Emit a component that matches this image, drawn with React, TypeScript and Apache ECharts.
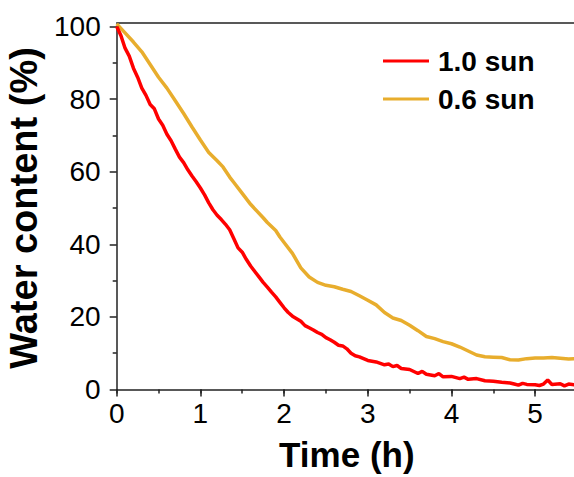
import React, { useEffect, useRef } from "react";
import * as echarts from "echarts";

const seriesNames = ["1.0 sun", "0.6 sun"];
const xTicks = [0, 1, 2, 3, 4, 5];
const yTicks = [0, 20, 40, 60, 80, 100];

const sun10Time = [0, 0.05, 0.1, 0.15, 0.2, 0.25, 0.3, 0.35, 0.4, 0.45, 0.5, 0.55, 0.6, 0.65, 0.7, 0.75, 0.8, 0.85, 0.9, 0.95, 1.0, 1.05, 1.1, 1.15, 1.2, 1.25, 1.3, 1.35, 1.4, 1.45, 1.5, 1.55, 1.6, 1.65, 1.7, 1.75, 1.8, 1.85, 1.9, 1.95, 2.0, 2.05, 2.1, 2.15, 2.2, 2.25, 2.3, 2.35, 2.4, 2.45, 2.5, 2.55, 2.6, 2.65, 2.7, 2.75, 2.8, 2.85, 2.9, 2.95, 3.0, 3.1, 3.2, 3.25, 3.3, 3.35, 3.4, 3.5, 3.6, 3.65, 3.7, 3.8, 3.85, 3.9, 4.0, 4.1, 4.15, 4.2, 4.3, 4.4, 4.5, 4.6, 4.7, 4.75, 4.8, 4.85, 4.9, 5.0, 5.05, 5.1, 5.15, 5.2, 5.3, 5.35, 5.4, 5.5];
const sun10Water = [100, 97.5, 94, 91.8, 88.5, 86, 83, 81, 78.5, 77.3, 74.5, 72.8, 70.3, 68.5, 66.2, 64, 62.5, 60.5, 58.8, 57.2, 55.5, 53.6, 51.4, 49.5, 48, 46.8, 45.5, 44, 41.5, 39, 37.8, 35.8, 34, 32.5, 31, 29.5, 28.2, 26.8, 25.5, 24, 22.5, 21.2, 20.2, 19.5, 18.8, 17.6, 17.0, 16.4, 15.7, 15.2, 14.3, 13.7, 13.0, 12.2, 12.0, 11.2, 10.0, 9.3, 9.0, 8.5, 8.0, 7.6, 6.8, 7.0, 6.3, 6.6, 5.8, 5.5, 4.4, 5.0, 4.2, 3.8, 4.4, 3.5, 3.6, 3.0, 3.4, 2.8, 3.0, 2.4, 2.3, 2.0, 1.8, 1.5, 1.2, 1.7, 1.4, 1.3, 1.1, 1.5, 2.6, 1.4, 1.6, 1.0, 1.5, 1.2];

const sun06Time = [0, 0.1, 0.2, 0.3, 0.4, 0.5, 0.6, 0.7, 0.8, 0.9, 1.0, 1.1, 1.2, 1.27, 1.35, 1.4, 1.5, 1.6, 1.75, 1.8, 1.9, 1.95, 2.0, 2.1, 2.2, 2.3, 2.4, 2.5, 2.6, 2.7, 2.8, 2.9, 3.0, 3.1, 3.2, 3.3, 3.4, 3.5, 3.6, 3.7, 3.8, 3.9, 4.0, 4.1, 4.2, 4.3, 4.4, 4.5, 4.6, 4.7, 4.8, 4.9, 5.0, 5.1, 5.2, 5.3, 5.4, 5.5];
const sun06Water = [100.7, 98.2, 95.7, 93, 89.5, 86, 83, 79.5, 76, 72.3, 68.7, 65.3, 63, 61.3, 58.5, 57, 54, 51, 47.3, 46, 43.8, 42, 40.5, 37.5, 33.5, 31, 29.5, 28.7, 28.3, 27.6, 27, 25.8, 24.6, 23.3, 21.2, 19.7, 19.0, 17.7, 16.2, 14.6, 14.0, 13.2, 12.6, 11.7, 10.6, 9.5, 9.0, 8.9, 8.8, 8.2, 8.1, 8.5, 8.7, 8.7, 8.8, 8.6, 8.4, 8.5];

const FONT = "'Liberation Sans', Arial, sans-serif";
const AXIS_COLOR = "#222";
const RED = "#ff0000";
const GOLD = "#e8ad2d";

export default function App() {
  const ref = useRef<HTMLDivElement>(null);
  useEffect(() => {
    if (!ref.current) return;
    const chart = echarts.init(ref.current, null, { renderer: "svg" });
    const xMin = xTicks[0];
    const xMax = 5.5;
    const yMin = yTicks[0];
    const yMax = yTicks[yTicks.length - 1];
    chart.setOption({
      animation: false,
      backgroundColor: "#fff",
      grid: { left: 116.7, right: -3, top: 26.4, bottom: 87.5, containLabel: false, outerBoundsMode: "none" },
      legend: {
        orient: "vertical",
        left: 378,
        top: 41.5,
        itemWidth: 46,
        itemHeight: 3,
        itemGap: 9,
        data: [
          { name: seriesNames[0], icon: "rect" },
          { name: seriesNames[1], icon: "rect" },
        ],
        textStyle: { fontFamily: FONT, fontSize: 28, fontWeight: "bold", color: "#000", lineHeight: 29, padding: [0, 0, 0, 4] },
      },
      xAxis: [
        {
          type: "value",
          min: xMin,
          max: xMax,
          interval: 1,
          position: "bottom",
          name: "Time (h)",
          nameLocation: "middle",
          nameGap: 47,
          nameTextStyle: { fontFamily: FONT, fontSize: 35, fontWeight: "bold", color: "#000" },
          axisLine: { show: true, lineStyle: { color: AXIS_COLOR, width: 1.5 } },
          axisTick: { show: true, inside: false, length: 7, lineStyle: { color: AXIS_COLOR, width: 1.5 } },
          axisLabel: { fontFamily: FONT, fontSize: 28, color: "#000", margin: 10, showMaxLabel: false, formatter: (v: number) => String(v) },
          splitLine: { show: false },
        },
        {
          type: "value",
          min: xMin,
          max: xMax,
          interval: 0.5,
          position: "bottom",
          axisLine: { show: false },
          axisTick: { show: true, inside: false, length: 4, lineStyle: { color: AXIS_COLOR, width: 1.5 } },
          axisLabel: { show: false },
          splitLine: { show: false },
        },
        {
          type: "value",
          min: xMin,
          max: xMax,
          position: "top",
          offset: 3.7,
          axisLine: { show: true, lineStyle: { color: AXIS_COLOR, width: 1.5 } },
          axisTick: { show: false },
          axisLabel: { show: false },
          splitLine: { show: false },
        },
      ],
      yAxis: {
        type: "value",
        min: yMin,
        max: yMax,
        interval: 20,
        name: "Water content (%)",
        nameLocation: "middle",
        nameGap: 71,
        nameTextStyle: { fontFamily: FONT, fontSize: 38, fontWeight: "bold", color: "#000" },
        axisLine: { show: true, lineStyle: { color: AXIS_COLOR, width: 1.5 } },
        axisTick: { show: true, inside: false, length: 7, lineStyle: { color: AXIS_COLOR, width: 1.5 } },
        minorTick: { show: true, splitNumber: 2, length: 4, lineStyle: { color: AXIS_COLOR, width: 1.5 } },
        axisLabel: { fontFamily: FONT, fontSize: 28, color: "#000", margin: 16 },
        splitLine: { show: false },
      },
      series: [
        {
          name: seriesNames[0],
          type: "line",
          xAxisIndex: 0,
          data: sun10Time.map((t, i) => [t, sun10Water[i]]),
          showSymbol: false,
          symbol: "none",
          clip: false,
          lineStyle: { color: RED, width: 3.5 },
          itemStyle: { color: RED },
          z: 3,
        },
        {
          name: seriesNames[1],
          type: "line",
          xAxisIndex: 0,
          data: sun06Time.map((t, i) => [t, sun06Water[i]]),
          showSymbol: false,
          symbol: "none",
          clip: false,
          lineStyle: { color: GOLD, width: 3.5 },
          itemStyle: { color: GOLD },
          z: 2,
        },
      ],
    });
    return () => chart.dispose();
  }, []);
  return <div ref={ref} style={{ width: 574, height: 477, position: "absolute", left: 0, top: 0 }} />;
}
